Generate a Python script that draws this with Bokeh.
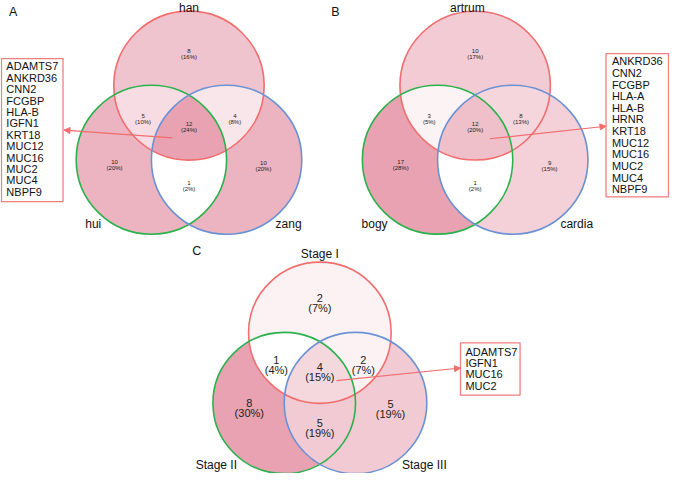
import numpy as np
from bokeh.plotting import figure
from bokeh.models import Range1d, Arrow, NormalHead
from bokeh.core.properties import value
from bokeh.embed import file_html
from bokeh.resources import INLINE

# ---------------- data ----------------
# region order: top only, left only, right only, top&left, top&right, left&right, all three
names_A = ["han", "hui", "zang"]
counts_A = [8, 10, 10, 5, 4, 1, 12]
pcts_A = ["(16%)", "(20%)", "(20%)", "(10%)", "(8%)", "(2%)", "(24%)"]
genes_A = ["ADAMTS7", "ANKRD36", "CNN2", "FCGBP", "HLA-B", "IGFN1", "KRT18",
           "MUC12", "MUC16", "MUC2", "MUC4", "NBPF9"]

names_B = ["artrum", "bogy", "cardia"]
counts_B = [10, 17, 9, 3, 8, 1, 12]
pcts_B = ["(17%)", "(28%)", "(15%)", "(5%)", "(13%)", "(2%)", "(20%)"]
genes_B = ["ANKRD36", "CNN2", "FCGBP", "HLA-A", "HLA-B", "HRNR", "KRT18",
           "MUC12", "MUC16", "MUC2", "MUC4", "NBPF9"]

names_C = ["Stage I", "Stage II", "Stage III"]
counts_C = [2, 8, 5, 1, 2, 5, 4]
pcts_C = ["(7%)", "(30%)", "(19%)", "(4%)", "(7%)", "(19%)", "(15%)"]
genes_C = ["ADAMTS7", "IGFN1", "MUC16", "MUC2"]

panel_letters = ["A", "B", "C"]

# ---------------- layout (positions / styles) ----------------
FONT = "Liberation Sans"
RED, GREEN, BLUE = "#F26D6D", "#2BB24C", "#6A92D4"
BOX_COLOR = "#F07F7F"
DARK = (232, 162, 178)

panels = [
    dict(names=names_A, counts=counts_A, pcts=pcts_A, genes=genes_A, letter=panel_letters[0],
         top=(193, 88), r=77, small=True, letter_xy=(13, 12),
         name_xy=[(193, 7.5), (95, 231), (295, 231)],
         box=(1, 64, 60, 208), gene_x=6, gene_y0=68, gene_dy=11.8,
         arrow=((176, 142), (65, 134))),
    dict(names=names_B, counts=counts_B, pcts=pcts_B, genes=genes_B, letter=panel_letters[1],
         top=(486, 88), r=77, small=True, letter_xy=(343, 12),
         name_xy=[(478, 7.5), (383, 231), (590, 231)],
         box=(620, 684, 55, 203), gene_x=626, gene_y0=63, gene_dy=12.0,
         arrow=((501, 143), (620, 130))),
    dict(names=names_C, counts=counts_C, pcts=pcts_C, genes=genes_C, letter=panel_letters[2],
         top=(327, 343.5), r=73, small=False, letter_xy=(201, 259),
         name_xy=[(327, 262), (221, 480), (434, 480)],
         box=(471, 532, 354, 408), gene_x=476, gene_y0=363, gene_dy=11.8,
         arrow=((344, 393), (471, 380))),
]

# label offsets in units of r, relative to centroid of the three centres
LABEL_OFF = [(0, -1.09), (-0.99, 0.40), (0.99, 0.42), (-0.61, -0.21),
             (0.61, -0.21), (0, 0.68), (0, -0.11)]

p = figure(width=669, height=473, output_backend="svg", toolbar_location=None,
           x_range=Range1d(0, 685), y_range=Range1d(489, 0), min_border=0)
p.axis.visible = False
p.grid.visible = False
p.outline_line_color = None
p.background_fill_color = "white"


def region(circles, n=2400):
    xs, ys = [], []
    t = np.linspace(0, 2 * np.pi, n, endpoint=False)
    for i, (cx, cy, r) in enumerate(circles):
        x = cx + r * np.cos(t)
        y = cy + r * np.sin(t)
        m = np.ones(n, dtype=bool)
        for j, (ox, oy, orr) in enumerate(circles):
            if j != i:
                m &= (x - ox) ** 2 + (y - oy) ** 2 <= orr ** 2 + 1e-6
        xs.append(x[m])
        ys.append(y[m])
    x = np.concatenate(xs)
    y = np.concatenate(ys)
    a = np.arctan2(y - y.mean(), x - x.mean())
    o = np.argsort(a)
    return list(x[o]), list(y[o])


def shade(c, lo, hi):
    t = (c - lo) / (hi - lo) if hi > lo else 1.0
    rgb = [round(255 + (d - 255) * t) for d in DARK]
    return "#%02x%02x%02x" % tuple(rgb)


for pn in panels:
    r = pn["r"]
    tx, ty = pn["top"]
    d = 0.5 * r
    h = 0.995 * r
    C = [(tx, ty, r), (tx - d, ty + h, r), (tx + d, ty + h, r)]
    lo, hi = min(pn["counts"]), max(pn["counts"])
    combos = [[0], [1], [2], [0, 1], [0, 2], [1, 2], [0, 1, 2]]
    xs_list, ys_list, cols = [], [], []
    for k, cmb in enumerate(combos):
        xx, yy = region([C[i] for i in cmb])
        xs_list.append(xx)
        ys_list.append(yy)
        cols.append(shade(pn["counts"][k], lo, hi))
    p.patches(xs_list, ys_list, fill_color=cols, line_color=None)

    for (cx, cy, rr), col in zip(C, [RED, GREEN, BLUE]):
        p.ellipse(x=cx, y=cy, width=2 * rr, height=2 * rr, fill_color=None,
                  line_color=col, line_width=1.6)

    gx = (C[0][0] + C[1][0] + C[2][0]) / 3
    gy = (C[0][1] + C[1][1] + C[2][1]) / 3
    if pn["small"]:
        fs, half = "6px", 3.2
    else:
        fs, half = "11px", 5.2
    lx = [gx + o[0] * r for o in LABEL_OFF]
    ly = [gy + o[1] * r for o in LABEL_OFF]
    p.text(x=lx, y=[v - half for v in ly], text=[str(c) for c in pn["counts"]],
           text_font=value(FONT), text_font_size=fs, text_align="center",
           text_baseline="middle", text_color="#222222")
    p.text(x=lx, y=[v + half for v in ly], text=pn["pcts"],
           text_font=value(FONT), text_font_size=fs, text_align="center",
           text_baseline="middle", text_color="#222222")

    # set names
    p.text(x=[q[0] for q in pn["name_xy"]], y=[q[1] for q in pn["name_xy"]],
           text=pn["names"], text_font=value(FONT), text_font_size="12px",
           text_align="center", text_baseline="middle", text_color="#111111")
    # panel letter
    p.text(x=[pn["letter_xy"][0]], y=[pn["letter_xy"][1]], text=[pn["letter"]],
           text_font=value(FONT), text_font_size="12.5px", text_align="center",
           text_baseline="middle", text_color="#111111")

    # gene box
    bl, br, bt, bb = pn["box"]
    p.quad(left=bl, right=br, top=bt, bottom=bb, fill_color="white",
           line_color=BOX_COLOR, line_width=1.3)
    gys = [pn["gene_y0"] + i * pn["gene_dy"] for i in range(len(pn["genes"]))]
    p.text(x=[pn["gene_x"]] * len(gys), y=gys, text=pn["genes"],
           text_font=value(FONT), text_font_size="11px", text_align="left",
           text_baseline="middle", text_color="#111111")

    (sx, sy), (ex, ey) = pn["arrow"]
    p.add_layout(Arrow(x_start=sx, y_start=sy, x_end=ex, y_end=ey,
                       line_color=RED, line_width=1.1,
                       end=NormalHead(size=6, fill_color=RED, line_color=RED)))

open("out.html", "w").write(file_html(p, INLINE))
